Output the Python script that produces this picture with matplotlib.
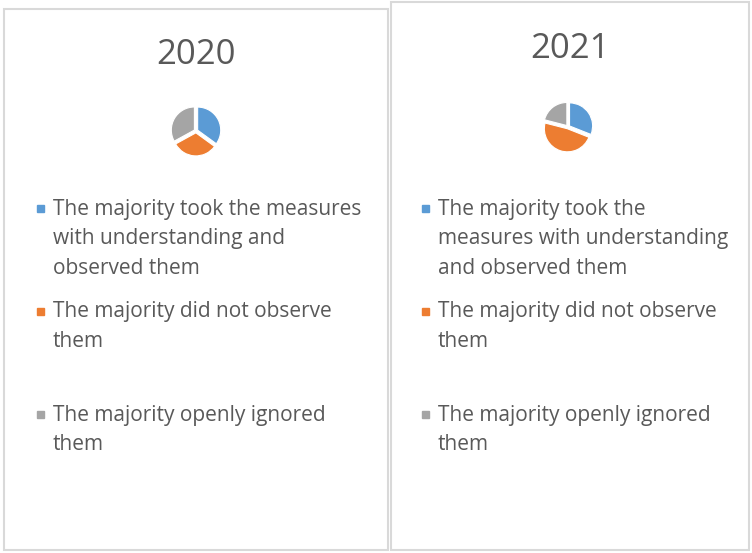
import matplotlib.pyplot as plt
from matplotlib.patches import Rectangle

years = ["2020", "2021"]
shares_2020 = [35, 32, 33]
shares_2021 = [31, 48, 21]
colors = ["#5B9BD5", "#ED7D31", "#A5A5A5"]

# legend labels, already wrapped the way each panel lays them out
labels_2020 = [
    ["The majority took the measures", "with understanding and", "observed them"],
    ["The majority did not observe", "them"],
    ["The majority openly ignored", "them"],
]
labels_2021 = [
    ["The majority took the", "measures with understanding", "and observed them"],
    ["The majority did not observe", "them"],
    ["The majority openly ignored", "them"],
]

W, H = 752, 553
fig = plt.figure(figsize=(W / 100, H / 100), dpi=100)
plt.rcParams['font.family'] = ['Open Sans', 'DejaVu Sans']
text_col = "#595959"


def fx(x):
    return x / W


def fy(y):
    return 1 - y / H


def panel(left, top, right, bottom, title, title_y, pie_c, shares, labels, mark_x):
    fig.patches.append(Rectangle((fx(left), fy(bottom)), fx(right - left), (bottom - top) / H,
                                 transform=fig.transFigure, fill=False,
                                 edgecolor="#D9D9D9", linewidth=1.5))
    fig.text(fx((left + right) / 2), fy(title_y), title, ha="center", va="center",
             fontsize=25, color=text_col)

    size = 60
    ax = fig.add_axes([fx(pie_c[0] - size / 2), fy(pie_c[1] + size / 2), fx(size), size / H])
    ax.pie(shares, colors=colors, startangle=90, counterclock=False,
           explode=[0.08] * 3, wedgeprops=dict(edgecolor="white", linewidth=0.8))
    ax.set_xlim(-1.3, 1.3)
    ax.set_ylim(-1.3, 1.3)
    ax.set_aspect("equal")
    ax.axis("off")

    starts = [208, 311, 414]
    for i, lines in enumerate(labels):
        y0 = starts[i]
        fig.patches.append(Rectangle((fx(mark_x - 3.5), fy(y0 + 3.5)), fx(7), 7 / H,
                                     transform=fig.transFigure, color=colors[i]))
        for j, line in enumerate(lines):
            fig.text(fx(mark_x + 13), fy(y0 + 29.5 * j + 1), line, ha="left", va="center",
                     fontsize=15, color=text_col)


panel(4, 9, 388, 550, years[0], 55, (196, 131), shares_2020, labels_2020, 40)
panel(391, 2, 749, 550, years[1], 49, (568, 127), shares_2021, labels_2021, 425)

fig.savefig("out.png", dpi=100)
